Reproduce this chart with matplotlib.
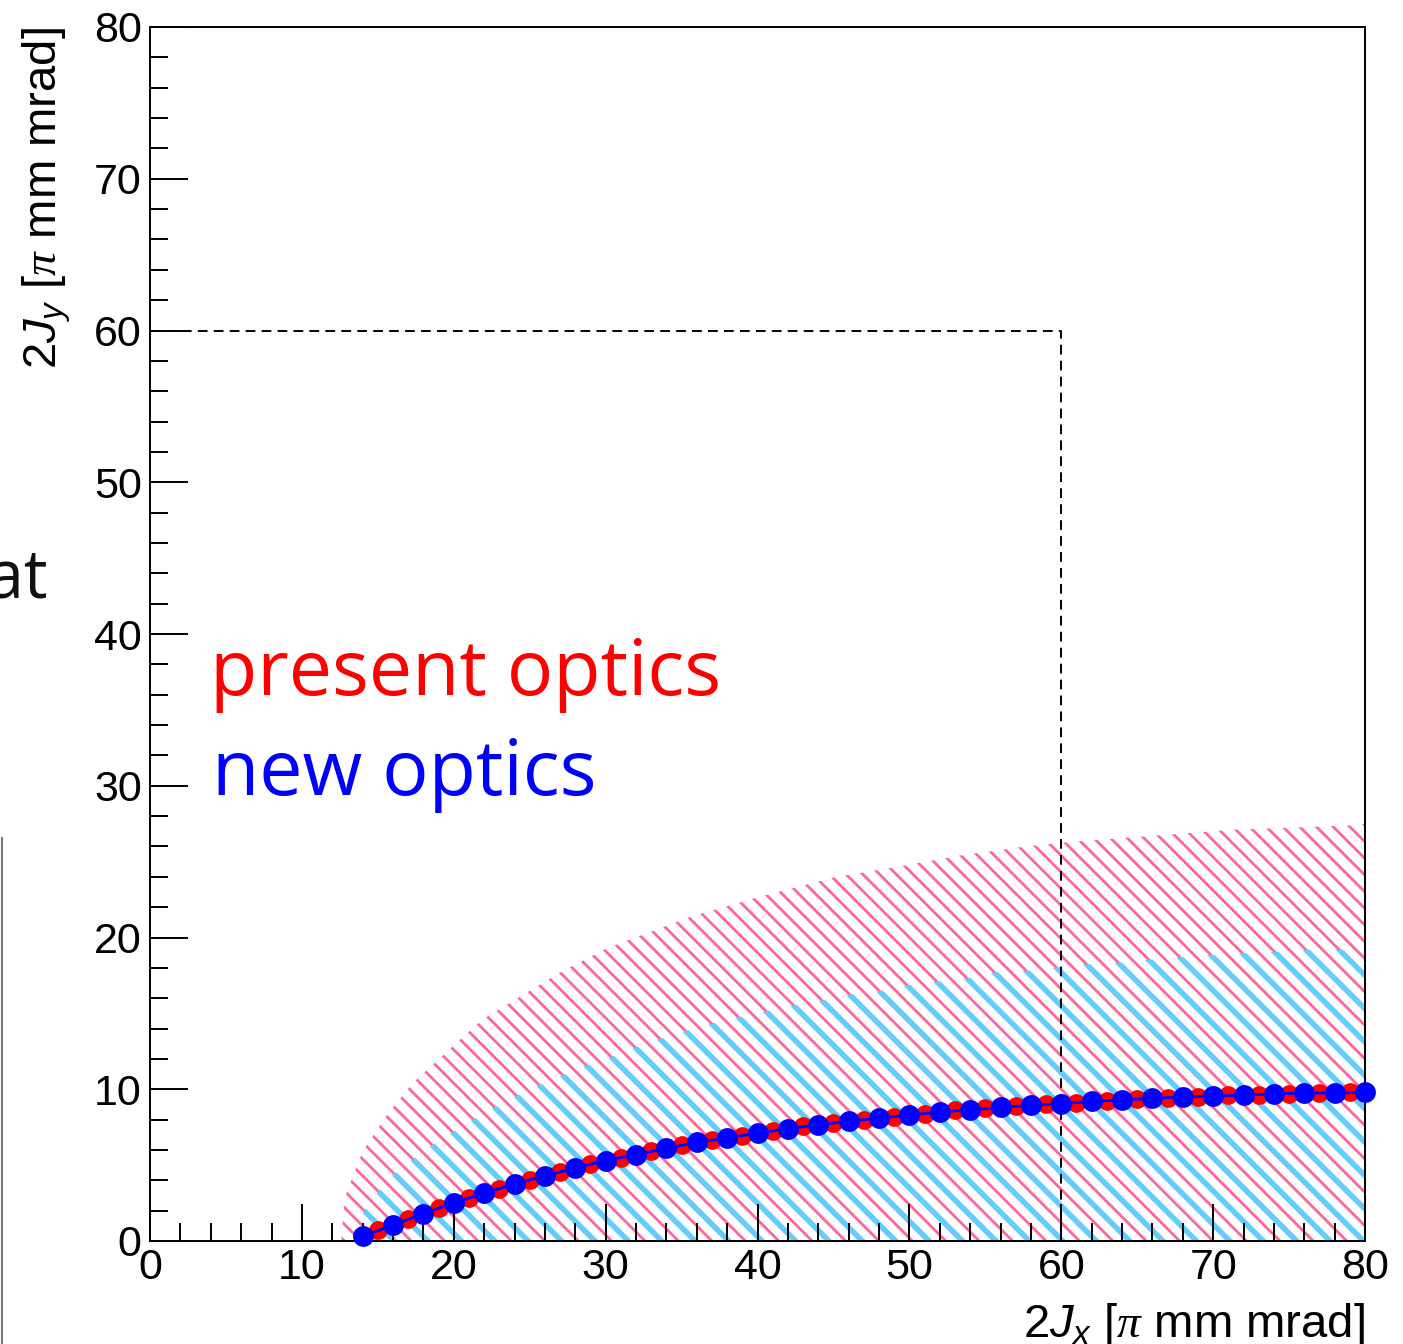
import matplotlib
matplotlib.use("Agg")
import matplotlib.pyplot as plt
from matplotlib.patches import Polygon
from matplotlib.collections import LineCollection

plt.rcParams["font.family"] = "Liberation Sans"
plt.rcParams["mathtext.fontset"] = "custom"
plt.rcParams["mathtext.rm"] = "Liberation Serif:italic"
plt.rcParams["mathtext.it"] = "Liberation Sans:italic"

# new optics points (blue), every 2 units
blue_x = list(range(14, 81, 2))
blue_y = [0.3, 1.05, 1.8, 2.5, 3.15, 3.75, 4.3, 4.8, 5.3, 5.7, 6.1, 6.5,
          6.8, 7.1, 7.4, 7.65, 7.9, 8.1, 8.3, 8.5, 8.65, 8.8, 8.95, 9.05,
          9.2, 9.3, 9.4, 9.5, 9.55, 9.6, 9.7, 9.75, 9.75, 9.8]

# present optics points (red), every unit
red_x = list(range(14, 81))
red_y = [0.3, 0.7, 1.05, 1.45, 1.8, 2.15, 2.5, 2.85, 3.15, 3.45, 3.75, 4.05,
         4.3, 4.55, 4.8, 5.05, 5.3, 5.5, 5.7, 5.9, 6.1, 6.3, 6.5, 6.65,
         6.8, 6.95, 7.1, 7.25, 7.4, 7.55, 7.65, 7.8, 7.9, 8.0, 8.1, 8.2,
         8.3, 8.4, 8.5, 8.6, 8.65, 8.75, 8.8, 8.9, 8.95, 9.0, 9.05, 9.1,
         9.2, 9.25, 9.3, 9.35, 9.4, 9.45, 9.5, 9.5, 9.55, 9.6, 9.6, 9.65,
         9.7, 9.7, 9.75, 9.75, 9.75, 9.8, 9.8]

# upper edge of the present-optics region (pink hatch)
present_edge_x = [12.6, 12.8, 14.0, 15.6, 17.3, 19.9, 21.9, 24.2, 27.0, 30.1,
                  35.7, 40.2, 45.2, 48.9, 53.3, 57.7, 60.6, 64.7, 71.3, 79.5, 80]
present_edge_y = [0, 2.8, 5.9, 8.3, 10.4, 12.8, 14.6, 16.0, 17.7, 19.3,
                  21.4, 22.7, 24.0, 24.6, 25.4, 26.0, 26.3, 26.6, 27.1, 27.4, 27.5]

# upper edge of the new-optics region (light blue hatch)
new_edge_x = [13.3, 13.6, 14.5, 15.8, 17.2, 18.8, 20.3, 21.9, 23.6, 25.2, 26.9,
              28.5, 30.3, 32.1, 33.8, 35.5, 37.3, 39.0, 40.9, 42.7, 44.6, 46.4,
              48.3, 50.0, 51.9, 53.8, 55.6, 57.6, 59.4, 61.3, 63.3, 65.2, 67.0,
              69.0, 70.9, 72.9, 74.9, 76.7, 78.7, 80]
new_edge_y = [0, 1.2, 2.6, 4.2, 5.3, 6.5, 7.4, 8.4, 9.3, 10.1, 10.8,
              11.5, 12.1, 12.8, 13.4, 13.9, 14.4, 14.8, 15.2, 15.6, 15.9, 16.3,
              16.5, 16.9, 17.1, 17.3, 17.7, 17.8, 18.0, 18.2, 18.3, 18.5, 18.6,
              18.8, 18.9, 19.0, 19.1, 19.2, 19.2, 19.3]

box_x = [0, 60, 60]
box_y = [60, 60, 0]

fig = plt.figure(figsize=(14.03, 13.44), dpi=100)
ax = fig.add_axes([150 / 1403, 103 / 1344, 1215 / 1403, 1214 / 1344])
ax.set_xlim(0, 80)
ax.set_ylim(0, 80)


def hatch(edge_x, edge_y, step, color, lw, z):
    pts = [(edge_x[0], 0)] + list(zip(edge_x, edge_y)) + [(80, 0)]
    poly = Polygon(pts, closed=True, transform=ax.transData)
    segs = []
    c = 42.5
    while c > 5:
        c -= step
    while c < 115:
        segs.append([(c + 1, -1), (c - 40, 40)])
        c += step
    lc = LineCollection(segs, colors=color, linewidths=lw, zorder=z)
    ax.add_collection(lc)
    lc.set_clip_path(poly)


hatch(present_edge_x, present_edge_y, 1.1, "#ff6699", 2.0, 1)
hatch(new_edge_x, new_edge_y, 2.2, "#66ccff", 4.0, 1.5)

ax.plot(box_x, box_y, color="black", lw=1.4, dashes=(5, 3.2), zorder=2)

ax.plot(red_x, red_y, color="red", lw=4.5, marker="o", ms=13.5,
        markeredgewidth=0, zorder=3, clip_on=False)
ax.plot(blue_x, blue_y, color="blue", lw=2, marker="o", ms=15,
        markeredgewidth=0, zorder=4, clip_on=False)

ax.set_xticks(range(0, 81, 10))
ax.set_yticks(range(0, 81, 10))
ax.set_xticks(range(0, 81, 2), minor=True)
ax.set_yticks(range(0, 81, 2), minor=True)
ax.tick_params(which="both", direction="in", top=False, right=False,
               width=1.4, color="black", labelsize=31)
ax.tick_params(which="major", length=27)
ax.tick_params(which="minor", length=13)
ax.tick_params(axis="x", pad=5)
ax.tick_params(axis="y", pad=6)
for s in ax.spines.values():
    s.set_linewidth(1.4)

ax.text(1.0, -0.079, r"2$J_x$ [$\mathrm{\pi}$ mm mrad]", fontsize=34,
        ha="right", va="baseline", transform=ax.transAxes)
ax.text(-0.085, 1.0, r"2$J_y$ [$\mathrm{\pi}$ mm mrad]", fontsize=34,
        rotation=90, ha="center", va="top", transform=ax.transAxes)

ax.text(60 / 1215, (1241 - 695) / 1214, "present optics", color="red",
        fontsize=55.5, family="Open Sans", ha="left",
        va="baseline", transform=ax.transAxes)
ax.text(62 / 1215, (1241 - 795) / 1214, "new optics", color="blue",
        fontsize=55.5, family="Open Sans", ha="left",
        va="baseline", transform=ax.transAxes)

# pieces of the neighbouring slide
fig.text(48 / 1403, 1 - 597 / 1344, "at", fontsize=48, family="Open Sans",
         color="#111111", ha="right", va="baseline")
fig.add_artist(plt.Line2D([1.5 / 1403, 1.5 / 1403], [0, 1 - 838 / 1344],
                          transform=fig.transFigure, color="#777777", lw=1.5))

fig.savefig("out.png", dpi=100)
